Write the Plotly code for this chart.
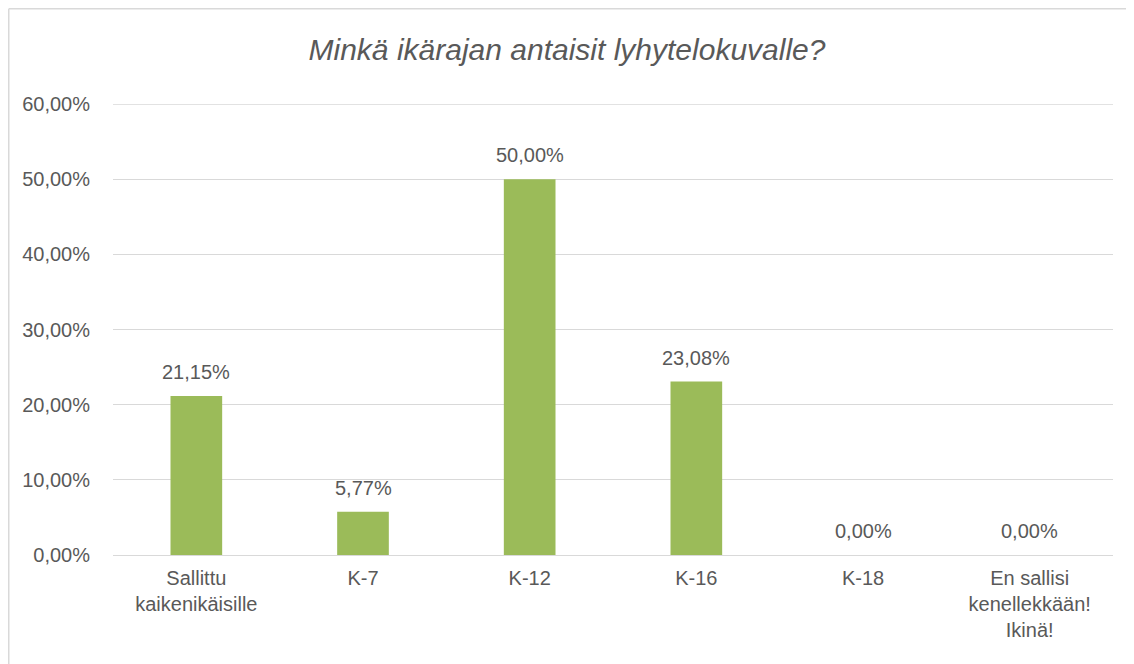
import plotly.graph_objects as go

categories = ["Sallittu<br>kaikenikäisille", "K-7", "K-12", "K-16", "K-18", "En sallisi<br>kenellekkään!<br>Ikinä!"]
values = [0.2115, 0.0577, 0.50, 0.2308, 0.0, 0.0]
tick_vals = [0, 0.1, 0.2, 0.3, 0.4, 0.5, 0.6]

FONT = "Liberation Sans, Arial, sans-serif"
TXT = "#595959"
GRID = "#D9D9D9"

# the page body adds an 8px offset; size the figure to fill the window
OFF = 8
W, H = 1134 - OFF, 664 - OFF
L, R, T, B = 113 - OFF, 21, 104 - OFF, 109
pw, ph = W - L - R, H - T - B

def px_to_paper_x(px):
    return (px - L) / pw

def px_to_paper_y(py):
    return (H - B - py) / ph

fig = go.Figure()
fig.add_trace(go.Bar(
    x=categories, y=values, marker=dict(color="#9BBB59", line=dict(width=0)),
    width=0.31, hoverinfo="skip",
))

for c, v in zip(categories, values):
    fig.add_annotation(
        x=c, y=v, text=f"{v*100:.2f}%".replace(".", ","), showarrow=False,
        yanchor="bottom", yshift=11, font=dict(family=FONT, size=20, color=TXT),
    )

# top gridline (at the range edge, which plotly skips)
fig.add_shape(type="line", xref="paper", yref="y", layer="below",
              x0=0, x1=1, y0=tick_vals[-1], y1=tick_vals[-1],
              line=dict(color=GRID, width=1.3))

# chart border (left and top visible)
fig.add_shape(type="line", xref="paper", yref="paper",
              x0=px_to_paper_x(0.75), x1=px_to_paper_x(W + 5),
              y0=px_to_paper_y(0.75), y1=px_to_paper_y(0.75),
              line=dict(color=GRID, width=1.5))
fig.add_shape(type="line", xref="paper", yref="paper",
              x0=px_to_paper_x(0.75), x1=px_to_paper_x(0.75),
              y0=px_to_paper_y(0.75), y1=px_to_paper_y(H + 5),
              line=dict(color=GRID, width=1.5))

fig.update_layout(
    width=W, height=H,
    margin=dict(l=L, r=R, t=T, b=B, autoexpand=False),
    paper_bgcolor="white", plot_bgcolor="white",
    separators=", ",
    showlegend=False,
    title=dict(text="<i>Minkä ikärajan antaisit lyhytelokuvalle?</i>",
               x=(567 - OFF) / W, xref="container", xanchor="center",
               y=1 - (49 - OFF) / H, yref="container", yanchor="middle",
               font=dict(family=FONT, size=30, color=TXT)),
    font=dict(family=FONT, color=TXT),
)
fig.update_yaxes(
    range=[0, 0.6], tickvals=tick_vals, tickformat=".2%",
    showgrid=True, gridcolor=GRID, gridwidth=1.3,
    zeroline=True, zerolinecolor=GRID, zerolinewidth=1.3,
    showline=False, ticks="", ticklabelstandoff=22,
    tickfont=dict(family=FONT, size=20, color=TXT),
)
fig.update_xaxes(
    showgrid=False, showline=False, ticks="", ticklabelstandoff=9,
    tickfont=dict(family=FONT, size=20, color=TXT),
)

fig.write_html("out.html")
